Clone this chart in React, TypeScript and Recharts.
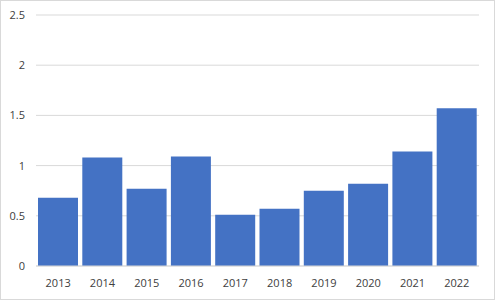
import { BarChart, Bar, XAxis, YAxis, CartesianGrid } from "recharts"

const years = ["2013", "2014", "2015", "2016", "2017", "2018", "2019", "2020", "2021", "2022"]
const values = [0.68, 1.08, 0.77, 1.09, 0.51, 0.57, 0.75, 0.82, 1.14, 1.57]
const yTicks = [0, 0.5, 1, 1.5, 2, 2.5]

const data = years.map((year, i) => ({ year, value: values[i] }))

const tickStyle = { fontFamily: "'Open Sans', 'Liberation Sans', sans-serif", fontSize: 11, fill: "#404040" }

export default function App() {
  return (
    <div
      style={{
        position: "absolute",
        left: 0,
        top: 0,
        width: 495,
        height: 300,
        background: "#fff",
      }}
    >
      <BarChart
        width={495}
        height={300}
        data={data}
        margin={{ top: 15, right: 16, bottom: 4, left: 0 }}
        barCategoryGap={2}
      >
        <CartesianGrid vertical={false} stroke="#d9d9d9" />
        <XAxis
          dataKey="year"
          height={30}
          tickLine={false}
          axisLine={{ stroke: "#d9d9d9" }}
          tick={tickStyle}
          tickMargin={7}
        />
        <YAxis
          width={36}
          domain={[0, 2.5]}
          ticks={yTicks}
          axisLine={false}
          tickLine={false}
          tick={tickStyle}
          tickMargin={5}
        />
        <Bar dataKey="value" fill="#4472c4" isAnimationActive={false} />
      </BarChart>
      <div
        style={{
          position: "absolute",
          inset: 0,
          border: "1px solid #d9d9d9",
          pointerEvents: "none",
        }}
      />
    </div>
  )
}
